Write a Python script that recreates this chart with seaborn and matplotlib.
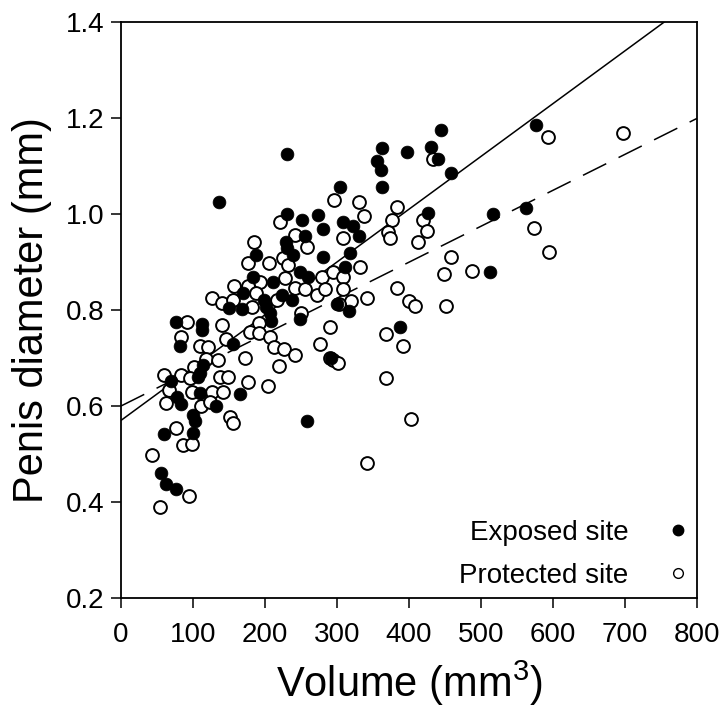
import numpy as np
import pandas as pd
import matplotlib
matplotlib.use("Agg")
import matplotlib.pyplot as plt
import seaborn as sns

# Exposed site (filled circles)
exposed_volume = [231, 136, 304, 231, 252, 274, 281, 256, 229, 231, 187, 239, 280, 249, 260,
                  184, 211, 170, 198, 223, 237, 150, 168, 202, 207, 209, 249, 76, 112, 112,
                  82, 155, 292, 114, 110, 69, 107, 110, 165, 78, 83, 132, 100, 103, 60,
                  100, 259, 55, 63, 77, 445, 363, 397, 430, 440, 356, 361, 459, 362, 427,
                  516, 308, 322, 331, 318, 311, 512, 300, 317, 387, 576, 562]
exposed_diameter = [1.126, 1.026, 1.056, 1.000, 0.988, 0.998, 0.969, 0.954, 0.941, 0.929, 0.915,
                    0.915, 0.911, 0.880, 0.869, 0.869, 0.859, 0.835, 0.821, 0.831, 0.821, 0.804,
                    0.802, 0.807, 0.793, 0.778, 0.781, 0.774, 0.771, 0.758, 0.724, 0.729, 0.699,
                    0.685, 0.669, 0.653, 0.661, 0.628, 0.625, 0.619, 0.604, 0.599, 0.581, 0.569,
                    0.542, 0.544, 0.569, 0.461, 0.438, 0.427, 1.174, 1.137, 1.130, 1.139, 1.114,
                    1.111, 1.092, 1.086, 1.056, 1.003, 1.000, 0.984, 0.975, 0.954, 0.919, 0.890,
                    0.880, 0.813, 0.797, 0.765, 1.185, 1.013]

# Protected site (open circles)
protected_volume = [296, 221, 241, 185, 259, 176, 205, 225, 232, 279, 294, 193, 228, 241, 256,
                    272, 283, 157, 176, 188, 216, 127, 140, 156, 182, 250, 91, 140, 191, 179,
                    192, 207, 290, 84, 110, 121, 146, 212, 226, 241, 277, 290, 172, 118, 135,
                    101, 220, 60, 84, 96, 138, 148, 66, 98, 126, 142, 177, 204, 63, 111,
                    124, 151, 155, 76, 86, 98, 43, 94, 54, 331, 338, 384, 434, 419, 376,
                    309, 371, 374, 425, 412, 459, 487, 448, 332, 309, 309, 341, 383, 320, 303,
                    400, 408, 451, 368, 392, 294, 302, 368, 403, 342, 593, 697, 574, 595]
protected_diameter = [1.029, 0.984, 0.956, 0.942, 0.932, 0.897, 0.897, 0.908, 0.894, 0.869, 0.880,
                      0.859, 0.866, 0.845, 0.843, 0.831, 0.843, 0.849, 0.849, 0.836, 0.821, 0.824,
                      0.814, 0.821, 0.806, 0.794, 0.776, 0.769, 0.772, 0.755, 0.753, 0.743, 0.764,
                      0.743, 0.724, 0.722, 0.739, 0.722, 0.718, 0.706, 0.729, 0.699, 0.701, 0.697,
                      0.696, 0.682, 0.683, 0.665, 0.665, 0.658, 0.661, 0.661, 0.633, 0.630, 0.630,
                      0.630, 0.649, 0.642, 0.606, 0.601, 0.609, 0.578, 0.564, 0.554, 0.519, 0.521,
                      0.498, 0.413, 0.390, 1.024, 0.996, 1.014, 1.114, 0.988, 0.988, 0.951, 0.963,
                      0.949, 0.965, 0.942, 0.911, 0.882, 0.876, 0.890, 0.869, 0.843, 0.824, 0.845,
                      0.819, 0.813, 0.819, 0.808, 0.808, 0.751, 0.725, 0.696, 0.689, 0.658, 0.572,
                      0.481, 1.160, 1.169, 0.971, 0.920]

# Regression lines (intercept, slope)
exposed_fit = (0.57, 0.00110)
protected_fit = (0.60, 0.000749)

x_ticks = [0, 100, 200, 300, 400, 500, 600, 700, 800]
y_ticks = [0.2, 0.4, 0.6, 0.8, 1.0, 1.2, 1.4]

sns.set_style("ticks")
plt.rcParams['font.family'] = ['Liberation Sans', 'DejaVu Sans']
plt.rcParams['mathtext.fontset'] = 'custom'
plt.rcParams['mathtext.rm'] = 'Liberation Sans'
plt.rcParams['mathtext.default'] = 'regular'
plt.rcParams['text.color'] = 'black'
plt.rcParams['axes.labelcolor'] = 'black'
plt.rcParams['xtick.color'] = 'black'
plt.rcParams['ytick.color'] = 'black'

fig = plt.figure(figsize=(7.27, 7.15), dpi=100)
ax = fig.add_axes([121/727, 1 - 598/715, (697-121)/727, (598-22)/715])

df_e = pd.DataFrame({"volume": exposed_volume, "diameter": exposed_diameter})
df_p = pd.DataFrame({"volume": protected_volume, "diameter": protected_diameter})

xs = np.linspace(0, 800, 400)
ax.plot(xs, exposed_fit[0] + exposed_fit[1] * xs, color='black', lw=1.1, zorder=1)
ln, = ax.plot(xs, protected_fit[0] + protected_fit[1] * xs, color='black', lw=1.1, zorder=1)
ln.set_dashes([17, 9])

sns.scatterplot(data=df_p, x="volume", y="diameter", ax=ax, s=85, facecolor='white',
                edgecolor='black', linewidth=1.4, zorder=2, legend=False)
sns.scatterplot(data=df_e, x="volume", y="diameter", ax=ax, s=85, color='black',
                edgecolor='black', linewidth=0.5, zorder=3, legend=False)

ax.set_xlim(0, 800)
ax.set_ylim(0.2, 1.4)
ax.set_xticks(x_ticks)
ax.set_xticklabels([str(t) for t in x_ticks])
ax.set_yticks(y_ticks)
ax.set_yticklabels([f"{t:.1f}" for t in y_ticks])
for s in ax.spines.values():
    s.set_visible(True)
    s.set_linewidth(1.3)
    s.set_color('black')
ax.tick_params(axis='both', direction='out', length=7, width=1.1, labelsize=20,
               colors='black')
ax.tick_params(axis='x', pad=10)
ax.tick_params(axis='y', pad=5)
ax.set_xlabel("Volume (mm$^{3}$)", fontsize=30, labelpad=8, color='black')
ax.set_ylabel("Penis diameter (mm)", fontsize=30, labelpad=10, color='black')

from matplotlib.lines import Line2D
handles = [Line2D([], [], ls='none', marker='o', markersize=7.5, markerfacecolor='black',
                  markeredgecolor='black'),
           Line2D([], [], ls='none', marker='o', markersize=7, markerfacecolor='white',
                  markeredgecolor='black', markeredgewidth=1.0)]
leg = ax.legend(handles, ["Exposed site", "Protected site"], loc='lower right',
                bbox_to_anchor=(1.006, 0.002), frameon=False, borderpad=0.3,
                markerfirst=False, fontsize=20, handletextpad=1.3, labelspacing=0.6,
                borderaxespad=0.0, handlelength=1.0)
for t in leg.get_texts():
    t.set_color('black')

fig.savefig("out.png", dpi=100)
